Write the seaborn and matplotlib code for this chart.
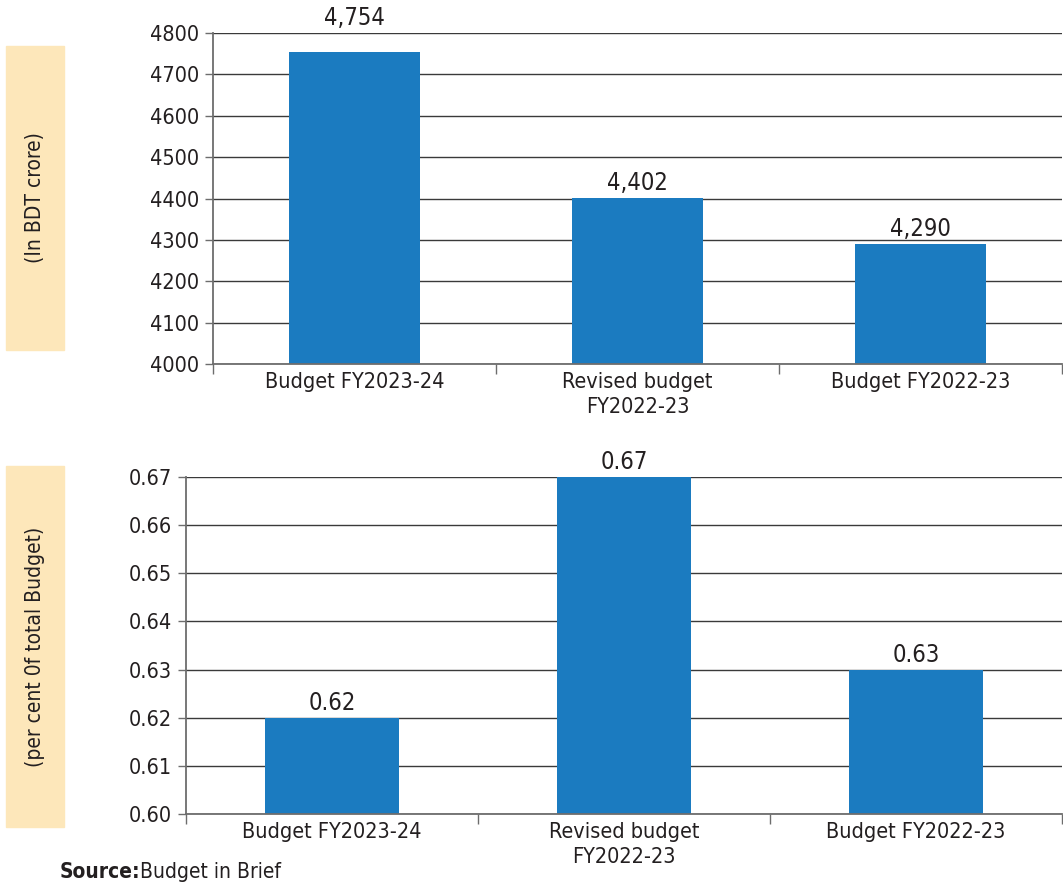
import matplotlib
matplotlib.use("Agg")
import matplotlib.pyplot as plt
from matplotlib.patches import Rectangle
from matplotlib.ticker import FixedLocator
import seaborn as sns
import pandas as pd

# data
categories = ["Budget FY2023-24", "Revised budget\nFY2022-23", "Budget FY2022-23"]
amount_crore = [4754, 4402, 4290]
share_pct = [0.62, 0.67, 0.63]
amount_labels = ["4,754", "4,402", "4,290"]
share_labels = ["0.62", "0.67", "0.63"]
amount_ticks = [4000, 4100, 4200, 4300, 4400, 4500, 4600, 4700, 4800]
share_ticks = [0.60, 0.61, 0.62, 0.63, 0.64, 0.65, 0.66, 0.67]

sns.set_theme(style="white")
plt.rcParams["font.family"] = ["DejaVu Sans"]
plt.rcParams["font.stretch"] = "condensed"

TXT = "#231f20"
BAR = "#1b7bc0"
GRID = "#3a3a3a"
BOX = "#fde7ba"

fig = plt.figure(figsize=(10.63, 8.84), dpi=100)
ax1 = fig.add_axes([0.2004, 0.5882, 0.7986, 0.3745])
ax2 = fig.add_axes([0.175, 0.0792, 0.824, 0.3812])

df1 = pd.DataFrame({"cat": categories, "val": amount_crore})
df2 = pd.DataFrame({"cat": categories, "val": share_pct})


def style_axis(ax, ticks, fmt):
    ax.set_yticks(ticks)
    ax.set_yticklabels([fmt.format(t) for t in ticks])
    ax.set_ylim(ticks[0], ticks[-1])
    ax.set_xlim(-0.5, 2.5)
    ax.set_xlabel("")
    ax.set_ylabel("")
    ax.yaxis.grid(True, color=GRID, linewidth=1.0)
    ax.set_axisbelow(True)
    for s in ["top", "right"]:
        ax.spines[s].set_visible(False)
    for s in ["left", "bottom"]:
        ax.spines[s].set_color("#6d6d6d")
        ax.spines[s].set_linewidth(1.3)
    ax.tick_params(axis="y", which="major", length=6, width=1, color="#6d6d6d",
                   labelsize=15.5, labelcolor=TXT, pad=4, left=True)
    ax.tick_params(axis="x", which="major", length=0, labelsize=15.5,
                   labelcolor=TXT, pad=6)
    ax.xaxis.set_minor_locator(FixedLocator([-0.5, 0.5, 1.5, 2.5]))
    ax.tick_params(axis="x", which="minor", length=7, width=1, color="#6d6d6d",
                   bottom=True)
    for lab in ax.get_xticklabels():
        lab.set_linespacing(1.3)


def label_bars(ax, values, labels):
    lo, hi = ax.get_ylim()
    for i, (v, lab) in enumerate(zip(values, labels)):
        # labels of bars close to the top sit just above the plot area
        y = hi if 0 < hi - v < 0.08 * (hi - lo) else v
        ax.annotate(lab, (i, y), xytext=(0, 2), textcoords="offset points",
                    ha="center", va="bottom", fontsize=17, color=TXT)


sns.barplot(data=df1, x="cat", y="val", color=BAR, saturation=1, width=0.46,
            linewidth=0, ax=ax1)
style_axis(ax1, amount_ticks, "{:.0f}")
label_bars(ax1, amount_crore, amount_labels)

sns.barplot(data=df2, x="cat", y="val", color=BAR, saturation=1, width=0.46,
            linewidth=0, ax=ax2)
style_axis(ax2, share_ticks, "{:.2f}")
label_bars(ax2, share_pct, share_labels)

# y-label boxes
W, H = 1063, 884
for (y0, y1, txt) in [(46, 350, "(In BDT crore)"), (466, 827, "(per cent 0f total Budget)")]:
    fig.patches.append(Rectangle((6 / W, 1 - y1 / H), 58 / W, (y1 - y0) / H,
                                 transform=fig.transFigure, color=BOX, zorder=0))
    fig.text(35 / W, 1 - (y0 + y1) / 2 / H, txt, rotation=90, ha="center",
             va="center", fontsize=15, color=TXT)

fig.text(60 / W, 2 / H, "Source:", fontsize=15, fontweight="bold",
         color=TXT, ha="left", va="bottom")
fig.text(140 / W, 2 / H, "Budget in Brief", fontsize=15,
         color=TXT, ha="left", va="bottom")

fig.savefig("out.png", dpi=100)
